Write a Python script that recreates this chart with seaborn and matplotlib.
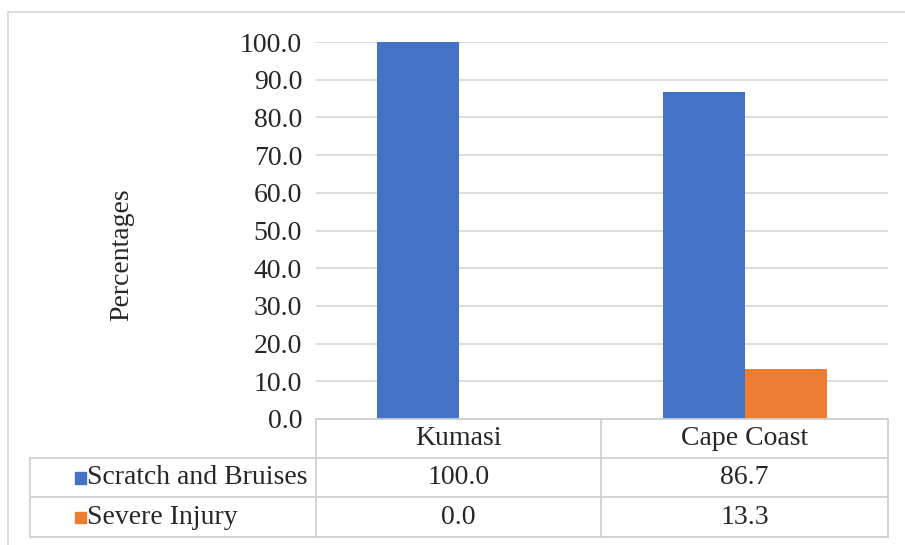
import pandas as pd
import seaborn as sns
import matplotlib.pyplot as plt
from matplotlib.lines import Line2D
from matplotlib.patches import Rectangle

# --- data ---
cities = ["Kumasi", "Cape Coast"]
series_names = ["Scratch and Bruises", "Severe Injury"]
scratch = [100.0, 86.7]
severe = [0.0, 13.3]
colors = ["#4472C4", "#ED7D31"]

df = pd.DataFrame({
    "city": cities * 2,
    "type": [series_names[0]] * 2 + [series_names[1]] * 2,
    "pct": scratch + severe,
})

sns.set_theme(style="white")
plt.rcParams["font.family"] = ["Liberation Serif", "DejaVu Serif"]

W, H = 905, 545
fig = plt.figure(figsize=(W / 100, H / 100), dpi=100)

def fx(px):
    return px / W

def fy(py):
    return 1 - py / H

# plot area in pixel coords of the reference
x0, x1, ytop, ybot = 316, 888, 42, 419
ax = fig.add_axes([fx(x0), fy(ybot), fx(x1) - fx(x0), fy(ytop) - fy(ybot)])

sns.barplot(data=df, x="city", y="pct", hue="type", palette=colors,
            width=0.57, gap=0, ax=ax, legend=False, saturation=1,
            linewidth=0)

ax.set_ylim(0, 100)
ax.set_xlim(-0.5, 1.5)
ax.set_yticks(range(0, 101, 10))
ax.set_yticklabels([f"{v:.1f}" for v in range(0, 101, 10)], fontsize=20)
ax.set_xticks([])
ax.set_xlabel("")
ax.set_ylabel("Percentages", fontsize=20)
ax.yaxis.set_label_coords((134 - x0) / (x1 - x0), (ybot - 255) / (ybot - ytop))
ax.tick_params(axis="y", length=0, pad=10)
ax.yaxis.grid(True, color="#d9d9d9", linewidth=1.3)
ax.set_axisbelow(True)
for s in ax.spines.values():
    s.set_visible(False)

# outer chart frame (partly cropped in the reference)
fig.add_artist(Line2D([fx(8), 1], [fy(12), fy(12)], color="#d9d9d9", lw=1.2))
fig.add_artist(Line2D([fx(8), fx(8)], [fy(12), 0], color="#d9d9d9", lw=1.2))

# --- data table below the chart ---
line_kw = dict(color="#d0d0d0", lw=1.3)
col_x = [30, 316, 601, 888]
row_y = [419, 458, 497, 537]

fig.add_artist(Line2D([fx(316), fx(888)], [fy(419), fy(419)], **line_kw))
for y in row_y[1:]:
    fig.add_artist(Line2D([fx(30), fx(888)], [fy(y), fy(y)], **line_kw))
fig.add_artist(Line2D([fx(30), fx(30)], [fy(458), fy(537)], **line_kw))
for x in col_x[1:]:
    fig.add_artist(Line2D([fx(x), fx(x)], [fy(419), fy(537)], **line_kw))

# header row with city names
for i, city in enumerate(cities):
    cx = (col_x[i + 1] + col_x[i + 2]) / 2
    fig.text(fx(cx), fy((row_y[0] + row_y[1]) / 2), city,
             ha="center", va="center", fontsize=20)

# one row per series: legend key, name, values
for r, (name, vals, c) in enumerate(zip(series_names, [scratch, severe], colors)):
    cy = (row_y[r + 1] + row_y[r + 2]) / 2
    fig.add_artist(Rectangle((fx(75), fy(cy + 6)), fx(11), fy(0) - fy(11),
                             color=c, transform=fig.transFigure))
    fig.text(fx(87), fy(cy), name, ha="left", va="center", fontsize=20)
    for i, v in enumerate(vals):
        cx = (col_x[i + 1] + col_x[i + 2]) / 2
        fig.text(fx(cx), fy(cy), f"{v:.1f}", ha="center", va="center", fontsize=20)

fig.savefig("out.png", dpi=100)
